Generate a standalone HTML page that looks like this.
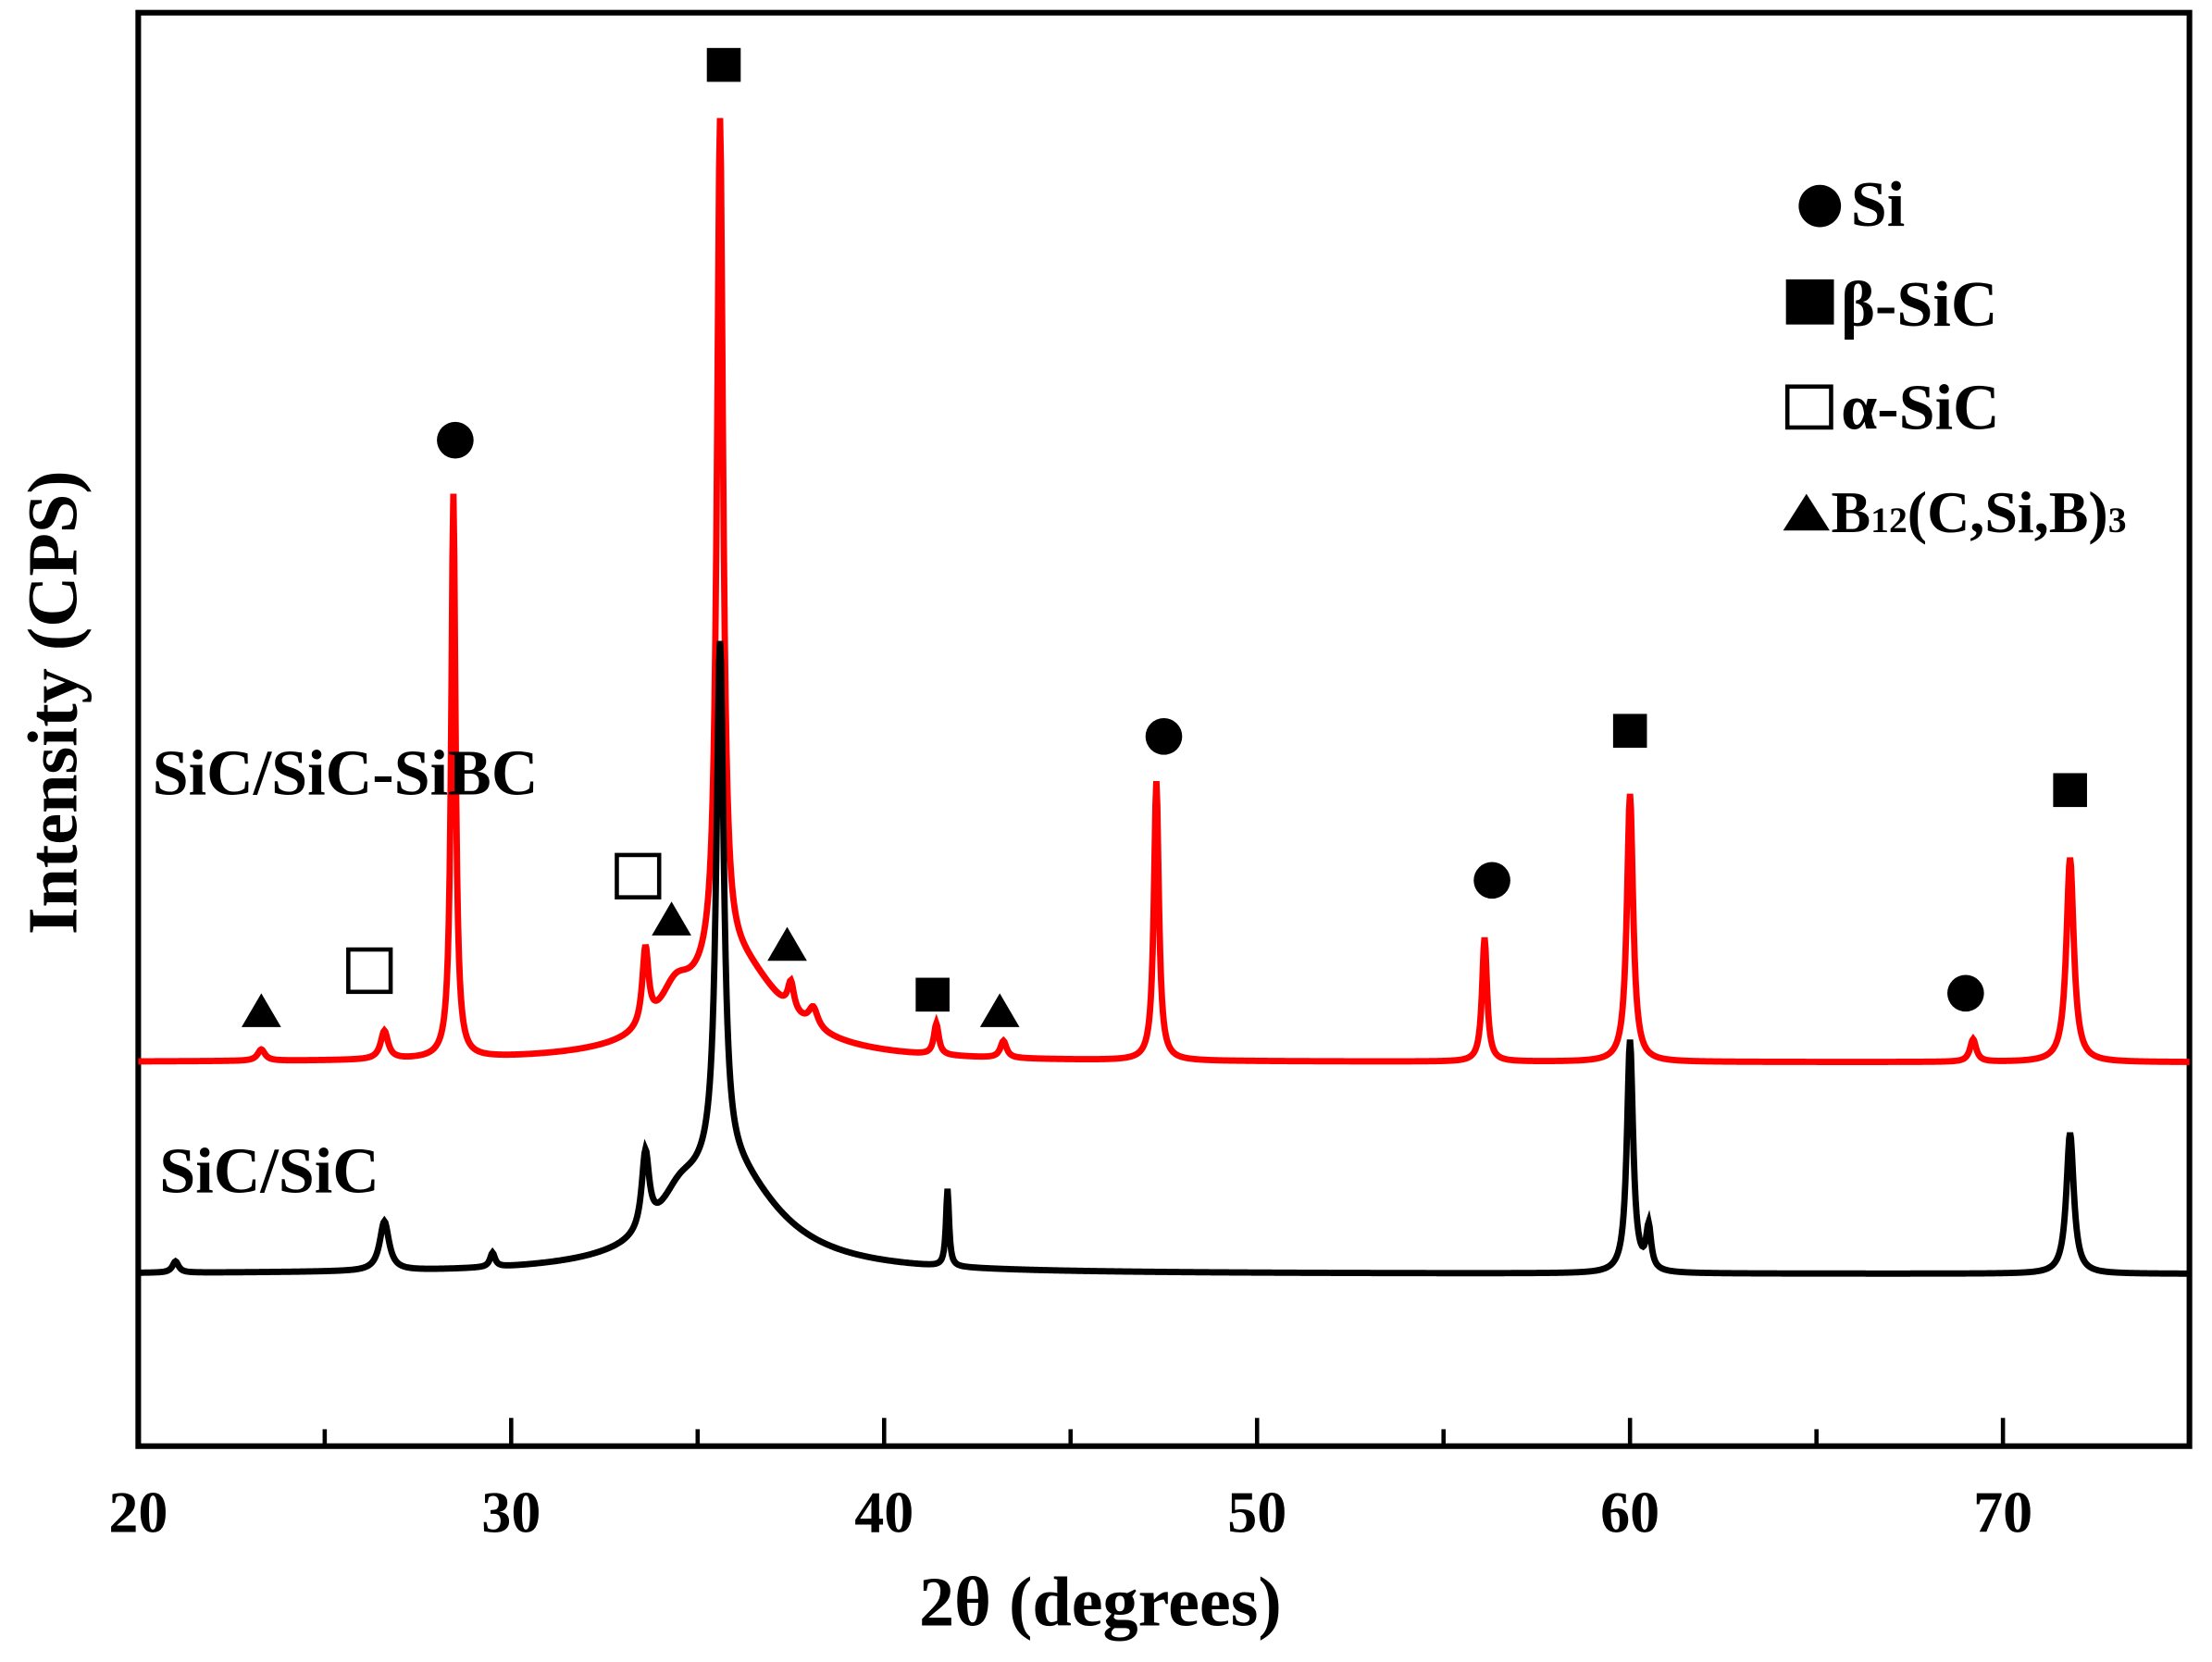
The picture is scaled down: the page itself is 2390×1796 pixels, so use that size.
<!DOCTYPE html>
<html><head><meta charset="utf-8"><style>
html,body{margin:0;padding:0;background:#fff;}
svg{display:block;}
text{font-family:"Liberation Serif",serif;font-weight:bold;fill:#000;}
</style></head><body>
<svg id="chart" width="2390" height="1796" viewBox="0 0 1568 1178" preserveAspectRatio="none" xmlns="http://www.w3.org/2000/svg">
<rect x="98" y="9" width="1454" height="1016" fill="none" stroke="#000" stroke-width="4"/>
<g id="ticks"></g>
<g id="series"></g>
<g id="markers"></g>
<text x="780" y="1152" font-size="50" text-anchor="middle">2θ  (degrees)</text>
<text transform="translate(54,498) rotate(-90)" font-size="50" text-anchor="middle">Intensity (CPS)</text>
<text x="108" y="563" font-size="46">SiC/SiC-SiBC</text>
<text x="113" y="845" font-size="46">SiC/SiC</text>
<g>
<circle cx="1290" cy="146" r="15" fill="#000"/>
<text x="1312" y="160" font-size="46">Si</text>
<rect x="1266" y="198" width="34" height="32" fill="#000"/>
<text x="1305" y="231" font-size="46">β-SiC</text>
<rect x="1267" y="274" width="31" height="29" fill="#fff" stroke="#000" stroke-width="3"/>
<text x="1305" y="304" font-size="46">α-SiC</text>
<polygon points="1264,376 1297,376 1280.5,350" fill="#000"/>
<text x="1298" y="377" font-size="42">B<tspan font-size="26">12</tspan>(C,Si,B)<tspan font-size="26">3</tspan></text>
</g>
</svg>
<script>
// x axis
const xTicks = [20,30,40,50,60,70];
const xMinor = [25,35,45,55,65];
// red series (SiC/SiC-SiBC) peaks: position, height, half-width
const redPos = [23.3,26.6,28.45,33.6,34.4,36.0,35.6,37.5,38.1,41.4,43.2,47.3,56.1,60.0,69.2,71.8];
const redHt  = [8,20,400,55,25,70,600,20,14,22,12,198,88,190,16,145];
const redW   = [0.12,0.12,0.07,0.1,0.5,1.5,0.1,0.1,0.15,0.08,0.1,0.08,0.08,0.1,0.1,0.12];
// black series (SiC/SiC)
const blkPos = [21.0,26.6,29.5,33.6,34.5,35.8,35.6,41.7,60.0,60.5,71.8];
const blkHt  = [8,35,10,55,20,75,370,55,165,30,100];
const blkW   = [0.1,0.15,0.08,0.12,0.6,1.6,0.12,0.05,0.1,0.08,0.12];
const redOffset = 150;
// markers: type, 2theta, intensity level (same units)
const mkType = ['c','s','c','c','s','s','c','o','o','t','t','t','t','s'];
const mkX    = [28.5,35.7,47.5,56.3,60.0,71.8,69.0,26.2,33.4,23.3,34.3,37.4,43.1,41.3];
const mkY    = [591,857,381,279,385,343,199,215,282,187,252,234,187,198];

const X0=98, X1=1552, XMIN=20, XMAX=75, YBASE=903;
const xs = v => X0 + (v-XMIN)/(XMAX-XMIN)*(X1-X0);
const ys = v => YBASE - v;
const NS='http://www.w3.org/2000/svg';
const tg=document.getElementById('ticks');
xTicks.forEach(t=>{
  const l=document.createElementNS(NS,'line');
  
  
  l.setAttribute('x1',xs(t));l.setAttribute('x2',xs(t));l.setAttribute('y1',1025);l.setAttribute('y2',1005);
  l.setAttribute('stroke','#000');l.setAttribute('stroke-width','3');tg.appendChild(l);
  const tx=document.createElementNS(NS,'text');
  
  
  tx.setAttribute('x',xs(t));tx.setAttribute('y',1086);tx.setAttribute('font-size','42');tx.setAttribute('text-anchor','middle');
  tx.textContent=t;tg.appendChild(tx);
});
xMinor.forEach(t=>{
  const l=document.createElementNS(NS,'line');
  
  
  l.setAttribute('x1',xs(t));l.setAttribute('x2',xs(t));l.setAttribute('y1',1025);l.setAttribute('y2',1013);
  l.setAttribute('stroke','#000');l.setAttribute('stroke-width','3');tg.appendChild(l);
});
function profile(pos,ht,w,off){
  let d='';
  for(let i=0;i<=2200;i++){
    const x=XMIN+(XMAX-XMIN)*i/2200;
    let y=off;
    for(let k=0;k<pos.length;k++){const u=(x-pos[k])/w[k];y+=ht[k]/(1+u*u);}
    d+=(i?'L':'M')+xs(x).toFixed(2)+','+ys(y).toFixed(2);
  }
  return d;
}
const sg=document.getElementById('series');
const pr=document.createElementNS(NS,'path');


pr.setAttribute('d',profile(redPos,redHt,redW,redOffset));
pr.setAttribute('fill','none');pr.setAttribute('stroke','#f00');pr.setAttribute('stroke-width','4.5');sg.appendChild(pr);
const pb=document.createElementNS(NS,'path');


pb.setAttribute('d',profile(blkPos,blkHt,blkW,0));
pb.setAttribute('fill','none');pb.setAttribute('stroke','#000');pb.setAttribute('stroke-width','4.5');sg.appendChild(pb);
const mg=document.getElementById('markers');
mkType.forEach((t,i)=>{
  const cx=xs(mkX[i]), cy=ys(mkY[i]);
  let el;
  if(t==='c'){el=document.createElementNS(NS,'circle');el.setAttribute('cx',cx);el.setAttribute('cy',cy);el.setAttribute('r',13);el.setAttribute('fill','#000');}
  else if(t==='s'){el=document.createElementNS(NS,'rect');el.setAttribute('x',cx-12);el.setAttribute('y',cy-12);el.setAttribute('width',24);el.setAttribute('height',24);el.setAttribute('fill','#000');}
  else if(t==='o'){el=document.createElementNS(NS,'rect');el.setAttribute('x',cx-15);el.setAttribute('y',cy-15);el.setAttribute('width',30);el.setAttribute('height',30);el.setAttribute('fill','#fff');el.setAttribute('stroke','#000');el.setAttribute('stroke-width','3');}
  else {el=document.createElementNS(NS,'polygon');el.setAttribute('points',`${cx-14},${cy+12} ${cx+14},${cy+12} ${cx},${cy-12}`);el.setAttribute('fill','#000');}
  
  
  mg.appendChild(el);
});
</script>
</body></html>
